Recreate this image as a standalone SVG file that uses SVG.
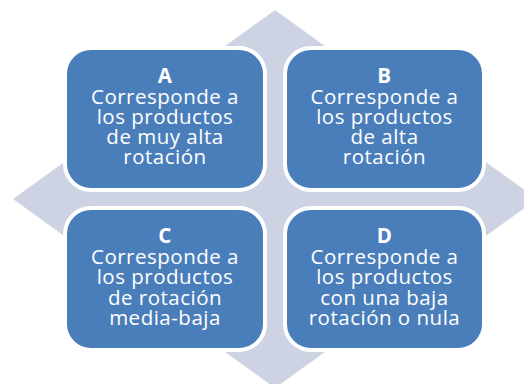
<svg xmlns="http://www.w3.org/2000/svg" width="524" height="384" viewBox="0 0 524 384">
<style>
.box{fill:#4a7ebb;stroke:#ffffff;stroke-width:4}
.t{font-family:"Open Sans","Liberation Sans",sans-serif;font-size:20.5px;letter-spacing:0.5px;fill:#ffffff;text-anchor:middle}
.h{font-weight:bold}
</style>
<rect width="524" height="384" fill="#ffffff"/>
<g id="background">
<polygon points="275,10 537,199 275,388 13,199" fill="#cdd3e3"/>
</g>
<g id="connectors"></g>
<g id="nodeA">
<rect class="box" x="65" y="48" width="200" height="142" rx="26"/>
<text class="t" x="165" y="83"><tspan class="h" x="165">A</tspan><tspan x="165" dy="20.5">Corresponde a</tspan><tspan x="165" dy="20">los productos</tspan><tspan x="165" dy="20">de muy alta</tspan><tspan x="165" dy="20">rotación</tspan></text>
</g>
<g id="nodeB">
<rect class="box" x="285" y="48" width="199" height="142" rx="26"/>
<text class="t" x="384.5" y="83"><tspan class="h" x="384.5">B</tspan><tspan x="384.5" dy="20.5">Corresponde a</tspan><tspan x="384.5" dy="20">los productos</tspan><tspan x="384.5" dy="20">de alta</tspan><tspan x="384.5" dy="20">rotación</tspan></text>
</g>
<g id="nodeC">
<rect class="box" x="65" y="208" width="200" height="142" rx="26"/>
<text class="t" x="165" y="243"><tspan class="h" x="165">C</tspan><tspan x="165" dy="20.5">Corresponde a</tspan><tspan x="165" dy="20.5">los productos</tspan><tspan x="165" dy="20.5">de rotación</tspan><tspan x="165" dy="20.5">media-baja</tspan></text>
</g>
<g id="nodeD">
<rect class="box" x="285" y="208" width="199" height="142" rx="26"/>
<text class="t" x="384.5" y="243"><tspan class="h" x="384.5">D</tspan><tspan x="384.5" dy="20.5">Corresponde a</tspan><tspan x="384.5" dy="20.5">los productos</tspan><tspan x="384.5" dy="20.5">con una baja</tspan><tspan x="384.5" dy="20.5">rotación o nula</tspan></text>
</g>
</svg>
